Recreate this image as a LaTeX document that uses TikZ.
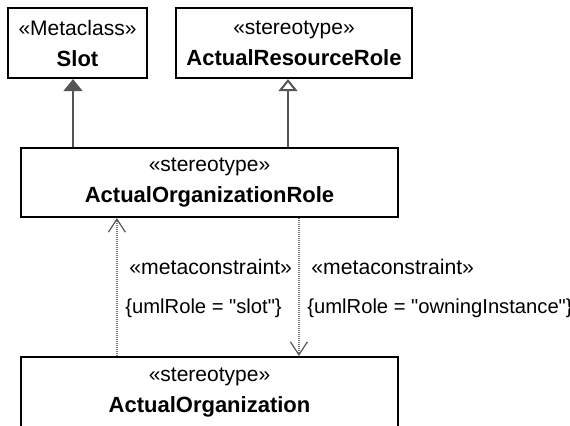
\documentclass[tikz,border=0pt]{standalone}
\usepackage{fontspec}
\setmainfont{Liberation Sans}
\usepackage{xcolor}
\usepackage{tikz}
\usetikzlibrary{positioning,arrows.meta,calc}
\definecolor{lineg}{RGB}{85,85,85}
\definecolor{dotg}{RGB}{120,120,120}
\newcommand{\sq}{\textquotedbl}

\begin{document}
\begin{tikzpicture}[x=0.5pt, y=-0.5pt,
  every node/.style={font=\fontsize{10.5}{15.5}\selectfont},
  cls/.style={rectangle, draw=black, line width=1.1pt, fill=white, align=center, inner sep=0pt},
  gen/.style={draw=lineg, line width=1pt, -{Triangle[length=6pt,width=9.5pt,fill=lineg]}},
  genopen/.style={draw=lineg, line width=1pt, -{Triangle[open,length=6pt,width=9.5pt,fill=white]}},
  dep/.style={draw=dotg, line width=0.7pt, dash pattern=on 0.5pt off 0.5pt,
              -{Straight Barb[length=6.5pt,width=8.5pt,line width=0.6pt,color=lineg]}},
  lbl/.style={anchor=west, inner sep=0pt, font=\fontsize{10.1}{12}\selectfont},
  stlbl/.style={lbl, font=\fontsize{10.6}{12}\selectfont}
]
  \useasboundingbox (0,0) rectangle (570,425);

  % Classes
  \node[cls, minimum width=69.5pt, minimum height=35pt] (slot) at (77.5,43)
       {«Metaclass»\\{\fontsize{11}{12}\selectfont\bfseries Slot}};
  \node[cls, minimum width=118pt, minimum height=35pt] (arr) at (294,43)
       {«stereotype»\\{\fontsize{11}{12}\selectfont\bfseries ActualResourceRole}};
  \node[cls, minimum width=188.5pt, minimum height=34.5pt] (orole) at (209.5,182.5)
       {«stereotype»\\{\fontsize{11}{12}\selectfont\bfseries ActualOrganizationRole}};
  \node[cls, minimum width=188.5pt, minimum height=36pt] (ao) at (209.5,393)
       {«stereotype»\\{\fontsize{11}{12}\selectfont\bfseries ActualOrganization}};

  % Generalizations
  \coordinate (slotfoot) at ($(slot.south)+(-4.5,0)$);
  \coordinate (arrfoot) at ($(arr.south)+(-6,0)$);
  \draw[gen] (slotfoot |- orole.north) -- (slotfoot);
  \draw[genopen] (arrfoot |- orole.north) -- (arrfoot);

  % Metaconstraints
  \draw[dep] ([xshift=48.5pt]ao.north west) -- ([xshift=48.5pt]orole.south west);
  \draw[dep] ([xshift=139.5pt]orole.south west) -- ([xshift=139.5pt]ao.north west);

  \node[stlbl] (mcl) at (129,267) {«metaconstraint»};
  \node[lbl]   (rl)  at (125,308) {\{umlRole = \sq slot\sq\}};
  \node[stlbl] (mcr) at (311,267) {«metaconstraint»};
  \node[lbl]   (rr)  at (307,308) {\{umlRole = \sq owningInstance\sq\}};
\end{tikzpicture}
\end{document}
